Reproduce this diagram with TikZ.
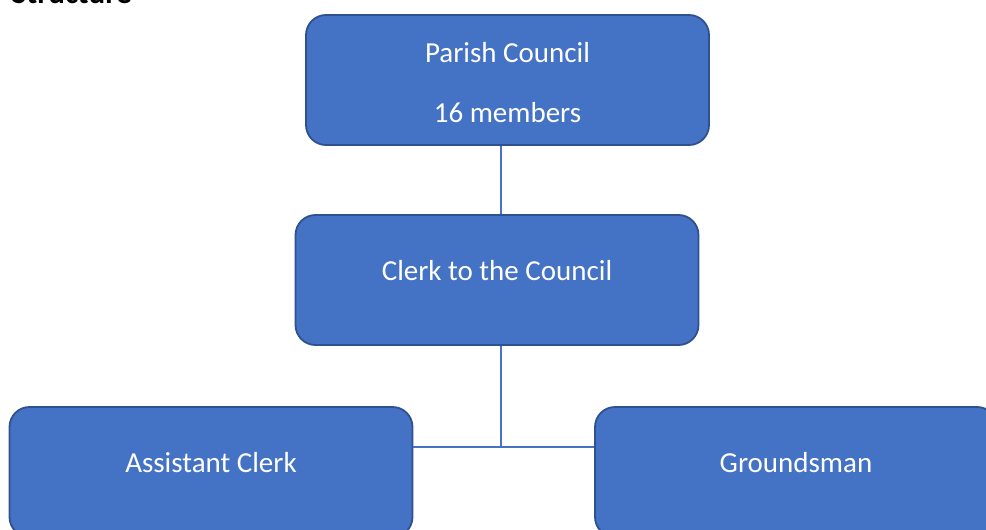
\documentclass[tikz,border=0pt]{standalone}
\usepackage{fontspec}
\setmainfont{Carlito}
\usetikzlibrary{positioning}
\definecolor{officeblue}{HTML}{4472C4}
\definecolor{officeedge}{HTML}{2F528F}

\begin{document}
\begin{tikzpicture}[x=1pt,y=-1pt,line width=1.2pt,
  box/.style={draw=officeedge,line width=1.8pt,fill=officeblue,rounded corners=20pt,
    minimum width=403pt,minimum height=130pt,text=white,align=center,
    font=\fontsize{29}{35}\selectfont,text height=12pt,text depth=12pt},
  link/.style={draw=officeblue,line width=1.2pt}]
  \useasboundingbox (0,0) rectangle (986,530);
  \node[anchor=base west,font=\bfseries\fontsize{31}{36}\selectfont](title) at (8,3) {Structure};
  \node[box,text height=96pt](council) at (507.5,80) {Parish Council\\[25pt]16 members};
  \node[box](clerk) at (497,280) {Clerk to the Council};
  \node[box](assistant) at (211,472) {Assistant Clerk};
  \node[box,minimum width=402pt](grounds) at (796,472) {Groundsman};
  \coordinate (hub) at (501,447);
  \draw[link] (council.south -| hub) -- (clerk.north -| hub);
  \draw[link] (clerk.south -| hub) -- (hub);
  \draw[link] (assistant.east |- hub) -- (grounds.west |- hub);
\end{tikzpicture}
\end{document}
